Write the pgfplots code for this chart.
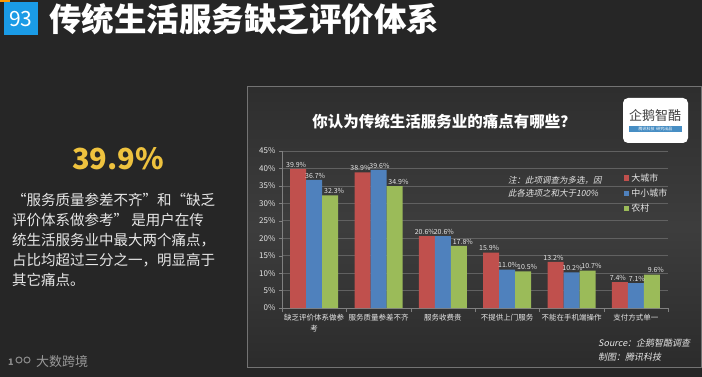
\documentclass[border=0pt]{standalone}
\usepackage{pgfplots}
\pgfplotsset{compat=1.18}
\usepackage{fontspec}
\setmainfont{Noto Sans CJK SC}
\newfontfamily\cjkit[FakeSlant=0.2]{Noto Sans CJK SC}
\definecolor{slidebg}{HTML}{262626}
\definecolor{cred}{HTML}{C0504D}
\definecolor{cblue}{HTML}{4F81BD}
\definecolor{cgreen}{HTML}{9BBB59}
\definecolor{tblue}{HTML}{1A9BE6}
\definecolor{yel}{HTML}{EEC23E}
\definecolor{ltxt}{HTML}{E6E6E6}
\begin{document}
\begin{tikzpicture}
\begin{scope}[x=1pt,y=-1pt]
  \fill[slidebg] (0,0) rectangle (702,377);
  \fill[orange!80!yellow] (0,0) rectangle (10,2);
  % title
  \fill[tblue] (4,2) rectangle (38,35);
  \node[text=white, font=\fontsize{21}{21}\selectfont] at (21,19) {93};
  \node[anchor=west, text=white, font=\fontsize{32.5}{33}\selectfont\bfseries, inner sep=0pt] at (49,19) {传统生活服务缺乏评价体系};
  % left text
  \node[text=yel, font=\fontsize{29}{29}\selectfont\bfseries] at (118,159) {39.9\%};
  \begin{scope}[every node/.style={anchor=west, text=ltxt, inner sep=0pt, font=\fontsize{14.5}{15}\selectfont}]
    \node at (12,200) {“服务质量参差不齐”和“缺乏};
    \node at (12,220) {评价体系做参考” 是用户在传};
    \node at (12,240) {统生活服务业中最大两个痛点，};
    \node at (12,260) {占比均超过三分之一，明显高于};
    \node at (12,280) {其它痛点。};
  \end{scope}
  % panel
  \shade[top color=black!82, bottom color=black!83, middle color=black!76] (247,87) rectangle (701,367);
  \draw[black!55, line width=1pt] (247,87) rectangle (701,367);
  \node[text=white, font=\fontsize{15.5}{16}\selectfont\bfseries] at (444,122) {你认为传统生活服务业的痛点有哪些？};
  % logo
  \fill[white, rounded corners=5pt] (623,98) rectangle (688,143);
  \node[text=black!75, font=\fontsize{13}{13}\selectfont] at (655,116) {企鹅智酷};
  \fill[cblue!90!cyan] (629,126) rectangle (682,132);
  \node[text=white, font=\fontsize{4}{4}\selectfont] at (655.5,129) {腾讯科技\ \ 研究出品};
  % note
  \node[anchor=west, text=ltxt, font=\fontsize{8.5}{9}\selectfont\cjkit, inner sep=0pt] at (508,180) {注：此项调查为多选，因};
  \node[anchor=west, text=ltxt, font=\fontsize{8.5}{9}\selectfont\cjkit, inner sep=0pt] at (508,193) {此各选项之和大于100\%};
  % source
  \node[anchor=west, text=ltxt, font=\fontsize{9}{9}\selectfont\cjkit, inner sep=0pt] at (598,343) {Source：企鹅智酷调查};
  \node[anchor=west, text=ltxt, font=\fontsize{9}{9}\selectfont\cjkit, inner sep=0pt] at (598,357) {制图：腾讯科技};
  % bottom-left logo
  \node[anchor=west, text=black!45, font=\fontsize{9}{9}\selectfont\bfseries, inner sep=0pt] at (8,362) {1};
  \draw[black!45, line width=1pt] (19,360) circle (3);
  \draw[black!45, line width=1pt] (27,360) circle (3);
  \node[anchor=west, text=black!40, font=\fontsize{13}{13}\selectfont, inner sep=0pt] at (36,362) {大数跨境};
\end{scope}
\begin{axis}[
  at={(282pt,-308pt)}, anchor=south west,
  scale only axis, width=386pt, height=157pt,
  ymin=0, ymax=45, ytick={0,5,...,45},
  yticklabel={\pgfmathprintnumber{\tick}\%},
  xmin=-0.5, xmax=5.5, xtick={0,...,5},
  xticklabels={{缺乏评价体系做参\\考},服务质量参差不齐,服务收费贵,不提供上门服务,不能在手机端操作,支付方式单一},
  xticklabel style={align=center, text=ltxt, font=\fontsize{7.5}{11}\selectfont},
  yticklabel style={text=ltxt, font=\fontsize{8}{8}\selectfont},
  /pgf/number format/assume math mode=true,
  ybar=0pt, bar width=16pt,
  axis x line*=bottom, axis y line*=left,
  axis line style={black!50, line width=0.8pt},
  major x tick style={draw=none},
  minor xtick={-0.5,0.5,...,5.5},
  minor x tick style={black!50},
  minor tick length=4pt,
  tick align=outside,
  major tick length=3pt,
  major y tick style={black!50},
  ymajorgrids, grid style={black!62, line width=0.6pt},
  nodes near coords={\pgfmathprintnumber[fixed,precision=1,fixed zerofill]{\pgfplotspointmeta}\%},
  nodes near coords style={text=ltxt, font=\fontsize{7}{7}\selectfont, inner sep=1.5pt},
  legend style={at={(0.885,0.87)}, anchor=north west, draw=none, fill=none,
    font=\fontsize{9}{10}\selectfont, text=ltxt, row sep=2pt, inner sep=0pt},
  legend image code/.code={\fill[#1] (0pt,-2.8pt) rectangle (5.6pt,2.8pt);},
  legend cell align=left,
]
\addplot[fill=cred, draw=none, nodes near coords style={xshift=-2pt}] coordinates {(0,39.9) (1,38.9) (2,20.6) (3,15.9) (4,13.2) (5,7.4)};
\addplot[fill=cblue, draw=none, nodes near coords style={xshift=1pt}] coordinates {(0,36.7) (1,39.6) (2,20.6) (3,11.0) (4,10.2) (5,7.1)};
\addplot[fill=cgreen, draw=none, nodes near coords style={xshift=4pt}] coordinates {(0,32.3) (1,34.9) (2,17.8) (3,10.5) (4,10.7) (5,9.6)};
\legend{大城市,中小城市,农村}
\end{axis}
\pgfresetboundingbox
\path (0pt,0pt) rectangle (702pt,-377pt);
\end{tikzpicture}
\end{document}
